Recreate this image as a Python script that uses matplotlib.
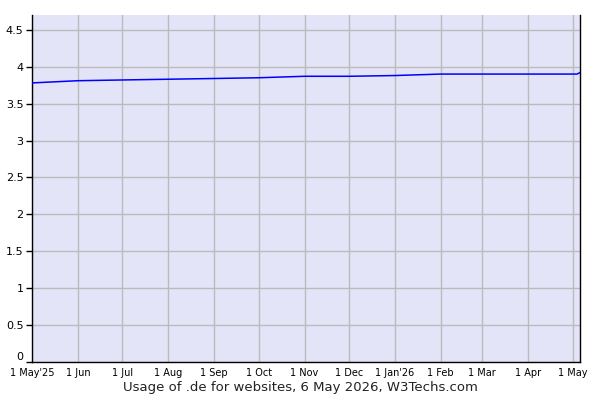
import matplotlib
matplotlib.use("Agg")
import matplotlib.pyplot as plt
import matplotlib.transforms as mtransforms
import pandas as pd

# usage of .de (% of websites)
dates = ["2025-05-01", "2025-06-01", "2025-07-01", "2025-08-01", "2025-09-01",
         "2025-10-01", "2025-11-01", "2025-12-01", "2026-01-01", "2026-02-01",
         "2026-03-01", "2026-04-01", "2026-05-01", "2026-05-04", "2026-05-06"]
usage = [3.78, 3.81, 3.82, 3.83, 3.84, 3.85, 3.87, 3.87, 3.88, 3.90,
         3.90, 3.90, 3.90, 3.90, 3.92]

tick_dates = ["2025-05-01", "2025-06-01", "2025-07-01", "2025-08-01", "2025-09-01",
              "2025-10-01", "2025-11-01", "2025-12-01", "2026-01-01", "2026-02-01",
              "2026-03-01", "2026-04-01", "2026-05-01"]
tick_labels = ["1 May'25", "1 Jun", "1 Jul", "1 Aug", "1 Sep", "1 Oct", "1 Nov",
               "1 Dec", "1 Jan'26", "1 Feb", "1 Mar", "1 Apr", "1 May"]
y_ticks = [0, 0.5, 1, 1.5, 2, 2.5, 3, 3.5, 4, 4.5]
y_labels = ["0", "0.5", "1", "1.5", "2", "2.5", "3", "3.5", "4", "4.5"]

x = pd.to_datetime(dates)
xt = pd.to_datetime(tick_dates)

fig = plt.figure(figsize=(6, 4), dpi=100)
ax = fig.add_axes([32 / 600, 38 / 400, 548 / 600, 347 / 400])
ax.set_facecolor("#e4e4f8")

ax.plot(x, usage, color="#0000ff", linewidth=1.1, zorder=3)

ax.set_xlim(pd.Timestamp("2025-05-01"), pd.Timestamp("2026-05-06"))
ax.set_ylim(0, 4.7)

ax.set_xticks(xt)
ax.set_xticklabels(tick_labels, fontsize=7)
ax.set_yticks(y_ticks)
ax.set_yticklabels(y_labels, fontsize=8)
ax.tick_params(axis="x", length=0, pad=4)
ax.tick_params(axis="y", length=4, width=1, direction="out", pad=2)

# lift the "0" label a bit so it clears the first date label
zero_lbl = ax.get_yticklabels()[0]
zero_lbl.set_transform(zero_lbl.get_transform() +
                       mtransforms.ScaledTranslation(0, 4 / 72, fig.dpi_scale_trans))

ax.grid(True, color="#bbbbbb", linewidth=1, zorder=1)
ax.set_axisbelow(True)

for side in ("left", "right", "bottom"):
    ax.spines[side].set_color("black")
    ax.spines[side].set_linewidth(1)
ax.spines["top"].set_visible(False)

fig.text(0.5, 0.022, "Usage of .de for websites, 6 May 2026, W3Techs.com",
         ha="center", fontsize=9.5, color="#222222")

fig.savefig("out.png", dpi=100)
